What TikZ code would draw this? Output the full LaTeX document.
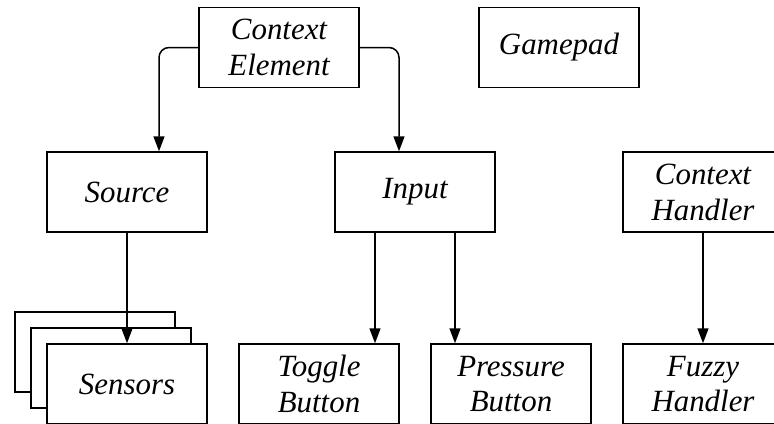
\documentclass[tikz,border=0pt]{standalone}
\usepackage{fontspec}
\setmainfont{Liberation Serif}[ItalicFont={Liberation Serif Italic}]
\usetikzlibrary{arrows.meta}
\begin{document}
\begin{tikzpicture}[x=1bp,y=-1bp,
  box/.style={draw=black, line width=1.5bp, fill=white, minimum width=160bp, minimum height=80bp,
    inner sep=0pt, align=center, font=\fontsize{31}{36}\selectfont\itshape},
  conn/.style={line width=1.5bp, -{Triangle[length=15bp,width=11bp]}}]
\useasboundingbox (0,0) rectangle (774,423);
\clip (0,0) rectangle (774,423);
\node[box] (ce) at (279,47.5) {Context\\Element};
\node[box] (gp) at (559,47.5) {Gamepad};
\node[box] (src) at (127,192) {Source};
\node[box] (inp) at (415,192) {Input};
\node[box] (ch) at (703,192) {Context\\Handler};
\node[box] (sback) at (95,352) {};
\node[box] (smid) at (111,368) {};
\node[box] (sens) at (127,384) {Sensors};
\node[box] (tog) at (319,384) {Toggle\\Button};
\node[box] (pre) at (511,384) {Pressure\\Button};
\node[box] (fz) at (703,384) {Fuzzy\\Handler};
\draw[conn, rounded corners=10bp] (ce.west) -| ([xshift=32bp]src.north);
\draw[conn, rounded corners=10bp] (ce.east) -| ([xshift=-16bp]inp.north);
\draw[conn] (src.south) -- (sens.north);
\draw[conn] ([xshift=-40bp]inp.south) -- ([xshift=-40bp]inp.south |- tog.north);
\draw[conn] ([xshift=40bp]inp.south) -- ([xshift=40bp]inp.south |- pre.north);
\draw[conn] (ch.south) -- (fz.north);
\end{tikzpicture}
\end{document}
